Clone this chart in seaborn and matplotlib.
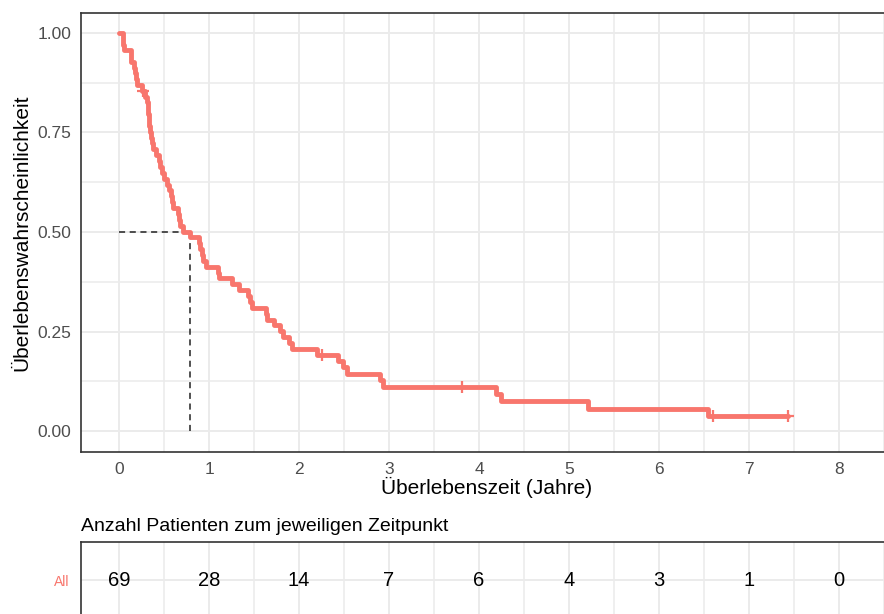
import numpy as np
import pandas as pd
import matplotlib
matplotlib.use("Agg")
import matplotlib.pyplot as plt
from matplotlib.ticker import MultipleLocator
import seaborn as sns

# ---------------- data ----------------
event_times = [0.04, 0.045, 0.05, 0.13, 0.135, 0.17, 0.18, 0.19, 0.20, 0.25,
               0.29, 0.31, 0.32, 0.325, 0.33, 0.335, 0.34, 0.36, 0.37, 0.38,
               0.41, 0.44, 0.46, 0.48, 0.50, 0.53, 0.56, 0.58, 0.59, 0.60,
               0.66, 0.67, 0.68, 0.71, 0.79, 0.89, 0.90, 0.92, 0.93, 0.97,
               1.10, 1.11, 1.25, 1.33, 1.43, 1.46, 1.48, 1.63, 1.64, 1.72,
               1.79, 1.82, 1.89, 1.92,
               2.20, 2.43, 2.49, 2.53, 2.90, 2.93,
               4.19, 4.24, 5.21, 6.54]
censor_times = [0.27, 2.26, 3.81, 6.60, 7.43]

risk_times = [0, 1, 2, 3, 4, 5, 6, 7, 8]
risk_counts = [69, 28, 14, 7, 6, 4, 3, 1, 0]
strata_label = "All"

x_label = "Überlebenszeit (Jahre)"
y_label = "Überlebenswahrscheinlichkeit"
table_title = "Anzahl Patienten zum jeweiligen Zeitpunkt"
x_ticks = [0, 1, 2, 3, 4, 5, 6, 7, 8]
y_ticks = [0.00, 0.25, 0.50, 0.75, 1.00]

line_color = "#F8766D"

# ---------------- Kaplan-Meier estimate ----------------
df = pd.DataFrame({
    "time": event_times + censor_times,
    "event": [1] * len(event_times) + [0] * len(censor_times),
})
n_at_risk = len(df)
surv = 1.0
step_t, step_s = [0.0], [1.0]
cens_t, cens_s = [], []
for t, grp in df.groupby("time", sort=True):
    d = int(grp["event"].sum())
    c = int((grp["event"] == 0).sum())
    if d > 0:
        surv *= (n_at_risk - d) / n_at_risk
        step_t.append(t)
        step_s.append(surv)
    if c > 0:
        cens_t.append(t)
        cens_s.append(surv)
    n_at_risk -= d + c
step_t.append(max(df["time"]))
step_s.append(surv)
km = pd.DataFrame({"time": step_t, "surv": step_s})
cens = pd.DataFrame({"time": cens_t, "surv": cens_s})
median_t = km.loc[km["surv"] <= 0.5, "time"].iloc[0]

# ---------------- figure ----------------
sns.set_style("white")
plt.rcParams["font.family"] = ["Liberation Sans", "DejaVu Sans"]

W, H = 884, 614
fig = plt.figure(figsize=(W / 100, H / 100), dpi=100)

def frac(x0, y0, x1, y1):
    return [x0 / W, 1 - y1 / H, (x1 - x0) / W, (y1 - y0) / H]

px_per_year = 90.0
x_zero_px = 119.0
ax_left_px, ax_right_px = 81.0, 892.0
xlim = ((ax_left_px - x_zero_px) / px_per_year, (ax_right_px - x_zero_px) / px_per_year)

ax = fig.add_axes(frac(ax_left_px, 13, ax_right_px, 452))
grid_col = "#EBEBEB"

ax.set_xlim(*xlim)
ax.set_ylim((431 - 452) / 398.0, (431 - 13) / 398.0)
ax.xaxis.set_major_locator(MultipleLocator(1))
ax.xaxis.set_minor_locator(MultipleLocator(0.5))
ax.set_yticks(y_ticks)
ax.yaxis.set_minor_locator(MultipleLocator(0.125))
ax.grid(True, which="major", color=grid_col, linewidth=1.4)
ax.grid(True, which="minor", color=grid_col, linewidth=1.1)
ax.set_axisbelow(True)

# median lines
ax.plot([0, median_t], [0.5, 0.5], color="#222222", linestyle=(0, (4, 3)), linewidth=1.1, zorder=2)
ax.plot([median_t, median_t], [0, 0.5], color="#222222", linestyle=(0, (4, 3)), linewidth=1.1, zorder=2)

sns.lineplot(data=km, x="time", y="surv", drawstyle="steps-post", estimator=None,
             sort=False, color=line_color, linewidth=3.5, ax=ax, zorder=3)
sns.scatterplot(data=cens, x="time", y="surv", marker="+", s=80, color=line_color,
                linewidth=1.6, ax=ax, zorder=4)

ax.set_xticks(x_ticks)
ax.set_xticklabels([str(v) for v in x_ticks])
ax.set_yticklabels([f"{v:.2f}" for v in y_ticks])
ax.tick_params(axis="both", which="major", length=4, width=1.1, color="#333333",
               labelsize=12.5, labelcolor="#4D4D4D", pad=3)
ax.tick_params(axis="both", which="minor", length=0)
ax.set_xlabel(x_label, fontsize=15, color="black", labelpad=0)
ax.set_ylabel(y_label, fontsize=15, color="black", labelpad=4)
for side in ["left", "top", "bottom"]:
    ax.spines[side].set_color("#333333")
    ax.spines[side].set_linewidth(1.2)
ax.spines["right"].set_visible(False)

# ---------------- risk table ----------------
tab = fig.add_axes(frac(ax_left_px, 542, ax_right_px, 618))
tab.set_xlim(*xlim)
tab.set_ylim(0, 1)
tab.xaxis.set_major_locator(MultipleLocator(1))
tab.xaxis.set_minor_locator(MultipleLocator(0.5))
tab.set_yticks([0.5])
tab.set_yticklabels([strata_label])
tab.grid(True, which="major", color=grid_col, linewidth=1.4)
tab.grid(True, which="minor", axis="x", color=grid_col, linewidth=1.1)
tab.set_axisbelow(True)
tab.tick_params(axis="x", which="both", length=0, labelbottom=False)
tab.tick_params(axis="y", length=0, labelsize=10, labelcolor=line_color, pad=8)
for xv, n in zip(risk_times, risk_counts):
    tab.text(xv, 0.5, str(n), ha="center", va="center", fontsize=14.5, color="black")
for side in ["left", "top", "bottom"]:
    tab.spines[side].set_color("#333333")
    tab.spines[side].set_linewidth(1.2)
tab.spines["right"].set_visible(False)
tab.set_title(table_title, loc="left", fontsize=14, color="black", pad=8)

fig.savefig("out.png", dpi=100)
